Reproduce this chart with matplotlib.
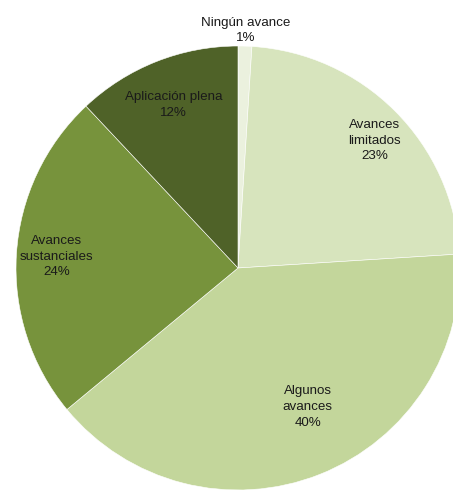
import numpy as np
import matplotlib.pyplot as plt

plt.rcParams['font.family'] = ['Liberation Sans', 'DejaVu Sans']

# grado de avance, en porcentaje
categorias = ['Ningún avance', 'Avances\nlimitados', 'Algunos\navances',
              'Avances\nsustanciales', 'Aplicación plena']
valores = [1, 23, 40, 24, 12]
colores = ['#EBF1DE', '#D7E4BD', '#C3D69B', '#77933C', '#4F6228']
# posición de cada etiqueta: distancia radial y giro (grados)
dist = [1.07, 0.84, 0.70, 0.82, 0.79]
giro = [0, -2, 5, 0, 0]

fig = plt.figure(figsize=(4.53, 4.92), dpi=100)
ax = fig.add_axes([0, 0, 1, 1])

wedges, _ = ax.pie(valores, colors=colores, startangle=90, counterclock=False,
                   radius=1, wedgeprops=dict(edgecolor='white', linewidth=0.4))

for w, cat, v, d, g in zip(wedges, categorias, valores, dist, giro):
    ang = np.deg2rad((w.theta1 + w.theta2) / 2 + g)
    ax.text(d * np.cos(ang), d * np.sin(ang), f'{cat}\n{v}%',
            ha='center', va='center', fontsize=9.6, color='#1a1a1a',
            linespacing=1.4)

ax.set_xlim(-238 / 222, 215 / 222)
ax.set_ylim(-224 / 222, 268 / 222)
ax.set_aspect('auto')
ax.axis('off')

fig.savefig('out.png', dpi=100)
